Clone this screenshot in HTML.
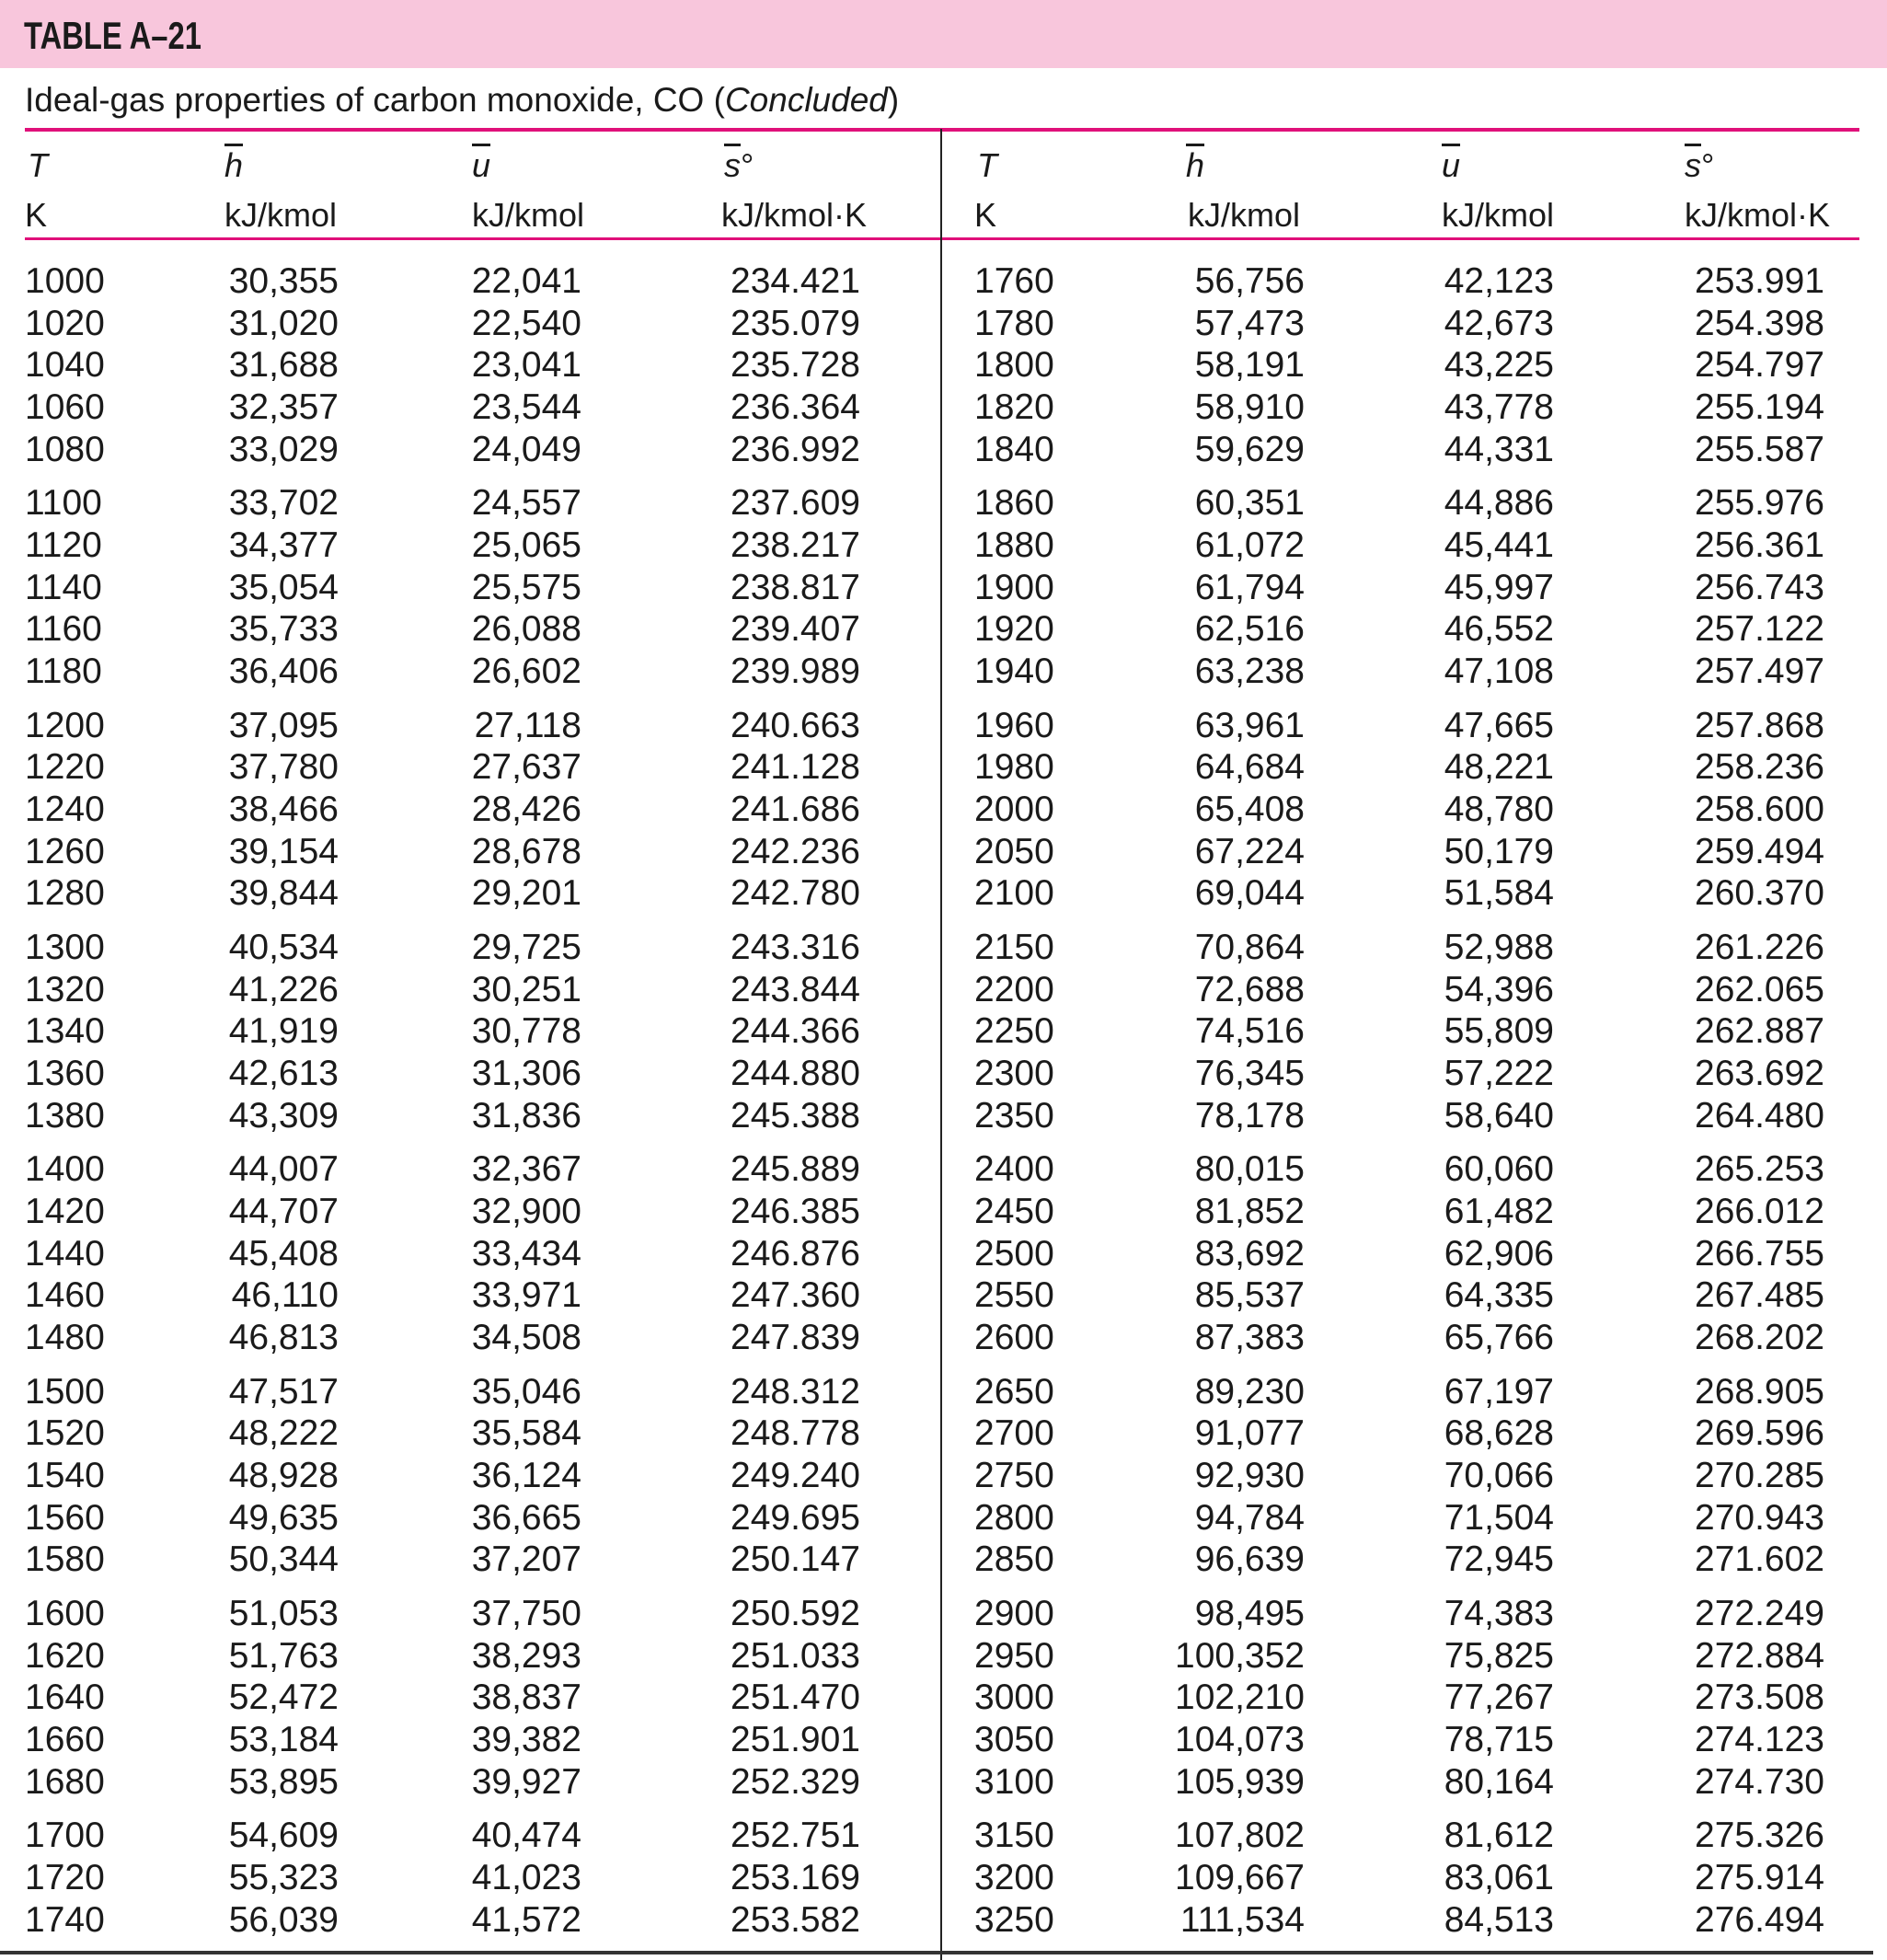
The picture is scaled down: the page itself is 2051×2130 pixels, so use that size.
<!DOCTYPE html>
<html><head><meta charset="utf-8"><style>
body{margin:0;width:2051px;height:2130px;background:#fff;position:relative;overflow:hidden;font-family:"Liberation Sans",sans-serif;color:#1a1a1a}
.band{position:absolute;left:0;top:0;width:2051px;height:74px;background:#f8c6dc}
.title{position:absolute;left:26px;top:14px;font-weight:bold;font-size:42px;transform:scaleX(0.78);transform-origin:left;letter-spacing:0px;line-height:50px}
.sub{position:absolute;left:27px;top:87px;font-size:37px;line-height:44px}
.hl{position:absolute;left:27px;width:1994px;background:#e0107a}
.vl{position:absolute;left:1022px;top:140px;width:2px;height:1990px;background:#222}
.bl{position:absolute;left:0;top:2120px;width:2036px;height:4px;background:#333}
.r{position:absolute;left:0;width:2051px;height:46px;font-size:39px;line-height:46px;transform:translateY(2px)}
.r span{position:absolute;top:0;white-space:nowrap}
.a{left:27px}.b{right:1683px}.c{right:1419px}.d{right:1116px}
.e{left:1059px}.f{right:633px}.g{right:362px}.h{right:68px}
.hd{position:absolute;font-size:36px;line-height:44px}
i{font-style:italic}
.ov{text-decoration:overline}
</style></head><body>
<div class="band"></div>
<div class="title">TABLE A–21</div>
<div class="sub">Ideal-gas properties of carbon monoxide, CO (<i>Concluded</i>)</div>
<div class="hl" style="top:139px;height:4px"></div>
<div class="hl" style="top:258px;height:3px"></div>
<div class="vl"></div>
<div class="bl"></div>

<div class="hd" style="left:30px;top:158px"><i>T</i></div>
<div class="hd" style="left:244px;top:158px"><i class="ov">h</i></div>
<div class="hd" style="left:513px;top:158px"><i class="ov">u</i></div>
<div class="hd" style="left:787px;top:158px"><i class="ov">s</i>°</div>
<div class="hd" style="left:1062px;top:158px"><i>T</i></div>
<div class="hd" style="left:1289px;top:158px"><i class="ov">h</i></div>
<div class="hd" style="left:1567px;top:158px"><i class="ov">u</i></div>
<div class="hd" style="left:1831px;top:158px"><i class="ov">s</i>°</div>
<div class="hd" style="left:27px;top:212px">K</div>
<div class="hd" style="left:244px;top:212px">kJ/kmol</div>
<div class="hd" style="left:513px;top:212px">kJ/kmol</div>
<div class="hd" style="left:784px;top:212px">kJ/kmol·K</div>
<div class="hd" style="left:1059px;top:212px">K</div>
<div class="hd" style="left:1291px;top:212px">kJ/kmol</div>
<div class="hd" style="left:1567px;top:212px">kJ/kmol</div>
<div class="hd" style="left:1831px;top:212px">kJ/kmol·K</div>

<div class="r" style="top:281px"><span class="a">1000</span><span class="b">30,355</span><span class="c">22,041</span><span class="d">234.421</span><span class="e">1760</span><span class="f">56,756</span><span class="g">42,123</span><span class="h">253.991</span></div>
<div class="r" style="top:327px"><span class="a">1020</span><span class="b">31,020</span><span class="c">22,540</span><span class="d">235.079</span><span class="e">1780</span><span class="f">57,473</span><span class="g">42,673</span><span class="h">254.398</span></div>
<div class="r" style="top:372px"><span class="a">1040</span><span class="b">31,688</span><span class="c">23,041</span><span class="d">235.728</span><span class="e">1800</span><span class="f">58,191</span><span class="g">43,225</span><span class="h">254.797</span></div>
<div class="r" style="top:418px"><span class="a">1060</span><span class="b">32,357</span><span class="c">23,544</span><span class="d">236.364</span><span class="e">1820</span><span class="f">58,910</span><span class="g">43,778</span><span class="h">255.194</span></div>
<div class="r" style="top:464px"><span class="a">1080</span><span class="b">33,029</span><span class="c">24,049</span><span class="d">236.992</span><span class="e">1840</span><span class="f">59,629</span><span class="g">44,331</span><span class="h">255.587</span></div>

<div class="r" style="top:522px"><span class="a">1100</span><span class="b">33,702</span><span class="c">24,557</span><span class="d">237.609</span><span class="e">1860</span><span class="f">60,351</span><span class="g">44,886</span><span class="h">255.976</span></div>
<div class="r" style="top:568px"><span class="a">1120</span><span class="b">34,377</span><span class="c">25,065</span><span class="d">238.217</span><span class="e">1880</span><span class="f">61,072</span><span class="g">45,441</span><span class="h">256.361</span></div>
<div class="r" style="top:614px"><span class="a">1140</span><span class="b">35,054</span><span class="c">25,575</span><span class="d">238.817</span><span class="e">1900</span><span class="f">61,794</span><span class="g">45,997</span><span class="h">256.743</span></div>
<div class="r" style="top:659px"><span class="a">1160</span><span class="b">35,733</span><span class="c">26,088</span><span class="d">239.407</span><span class="e">1920</span><span class="f">62,516</span><span class="g">46,552</span><span class="h">257.122</span></div>
<div class="r" style="top:705px"><span class="a">1180</span><span class="b">36,406</span><span class="c">26,602</span><span class="d">239.989</span><span class="e">1940</span><span class="f">63,238</span><span class="g">47,108</span><span class="h">257.497</span></div>

<div class="r" style="top:764px"><span class="a">1200</span><span class="b">37,095</span><span class="c">27,118</span><span class="d">240.663</span><span class="e">1960</span><span class="f">63,961</span><span class="g">47,665</span><span class="h">257.868</span></div>
<div class="r" style="top:809px"><span class="a">1220</span><span class="b">37,780</span><span class="c">27,637</span><span class="d">241.128</span><span class="e">1980</span><span class="f">64,684</span><span class="g">48,221</span><span class="h">258.236</span></div>
<div class="r" style="top:855px"><span class="a">1240</span><span class="b">38,466</span><span class="c">28,426</span><span class="d">241.686</span><span class="e">2000</span><span class="f">65,408</span><span class="g">48,780</span><span class="h">258.600</span></div>
<div class="r" style="top:901px"><span class="a">1260</span><span class="b">39,154</span><span class="c">28,678</span><span class="d">242.236</span><span class="e">2050</span><span class="f">67,224</span><span class="g">50,179</span><span class="h">259.494</span></div>
<div class="r" style="top:946px"><span class="a">1280</span><span class="b">39,844</span><span class="c">29,201</span><span class="d">242.780</span><span class="e">2100</span><span class="f">69,044</span><span class="g">51,584</span><span class="h">260.370</span></div>

<div class="r" style="top:1005px"><span class="a">1300</span><span class="b">40,534</span><span class="c">29,725</span><span class="d">243.316</span><span class="e">2150</span><span class="f">70,864</span><span class="g">52,988</span><span class="h">261.226</span></div>
<div class="r" style="top:1051px"><span class="a">1320</span><span class="b">41,226</span><span class="c">30,251</span><span class="d">243.844</span><span class="e">2200</span><span class="f">72,688</span><span class="g">54,396</span><span class="h">262.065</span></div>
<div class="r" style="top:1096px"><span class="a">1340</span><span class="b">41,919</span><span class="c">30,778</span><span class="d">244.366</span><span class="e">2250</span><span class="f">74,516</span><span class="g">55,809</span><span class="h">262.887</span></div>
<div class="r" style="top:1142px"><span class="a">1360</span><span class="b">42,613</span><span class="c">31,306</span><span class="d">244.880</span><span class="e">2300</span><span class="f">76,345</span><span class="g">57,222</span><span class="h">263.692</span></div>
<div class="r" style="top:1188px"><span class="a">1380</span><span class="b">43,309</span><span class="c">31,836</span><span class="d">245.388</span><span class="e">2350</span><span class="f">78,178</span><span class="g">58,640</span><span class="h">264.480</span></div>

<div class="r" style="top:1246px"><span class="a">1400</span><span class="b">44,007</span><span class="c">32,367</span><span class="d">245.889</span><span class="e">2400</span><span class="f">80,015</span><span class="g">60,060</span><span class="h">265.253</span></div>
<div class="r" style="top:1292px"><span class="a">1420</span><span class="b">44,707</span><span class="c">32,900</span><span class="d">246.385</span><span class="e">2450</span><span class="f">81,852</span><span class="g">61,482</span><span class="h">266.012</span></div>
<div class="r" style="top:1338px"><span class="a">1440</span><span class="b">45,408</span><span class="c">33,434</span><span class="d">246.876</span><span class="e">2500</span><span class="f">83,692</span><span class="g">62,906</span><span class="h">266.755</span></div>
<div class="r" style="top:1383px"><span class="a">1460</span><span class="b">46,110</span><span class="c">33,971</span><span class="d">247.360</span><span class="e">2550</span><span class="f">85,537</span><span class="g">64,335</span><span class="h">267.485</span></div>
<div class="r" style="top:1429px"><span class="a">1480</span><span class="b">46,813</span><span class="c">34,508</span><span class="d">247.839</span><span class="e">2600</span><span class="f">87,383</span><span class="g">65,766</span><span class="h">268.202</span></div>

<div class="r" style="top:1488px"><span class="a">1500</span><span class="b">47,517</span><span class="c">35,046</span><span class="d">248.312</span><span class="e">2650</span><span class="f">89,230</span><span class="g">67,197</span><span class="h">268.905</span></div>
<div class="r" style="top:1533px"><span class="a">1520</span><span class="b">48,222</span><span class="c">35,584</span><span class="d">248.778</span><span class="e">2700</span><span class="f">91,077</span><span class="g">68,628</span><span class="h">269.596</span></div>
<div class="r" style="top:1579px"><span class="a">1540</span><span class="b">48,928</span><span class="c">36,124</span><span class="d">249.240</span><span class="e">2750</span><span class="f">92,930</span><span class="g">70,066</span><span class="h">270.285</span></div>
<div class="r" style="top:1625px"><span class="a">1560</span><span class="b">49,635</span><span class="c">36,665</span><span class="d">249.695</span><span class="e">2800</span><span class="f">94,784</span><span class="g">71,504</span><span class="h">270.943</span></div>
<div class="r" style="top:1670px"><span class="a">1580</span><span class="b">50,344</span><span class="c">37,207</span><span class="d">250.147</span><span class="e">2850</span><span class="f">96,639</span><span class="g">72,945</span><span class="h">271.602</span></div>

<div class="r" style="top:1729px"><span class="a">1600</span><span class="b">51,053</span><span class="c">37,750</span><span class="d">250.592</span><span class="e">2900</span><span class="f">98,495</span><span class="g">74,383</span><span class="h">272.249</span></div>
<div class="r" style="top:1775px"><span class="a">1620</span><span class="b">51,763</span><span class="c">38,293</span><span class="d">251.033</span><span class="e">2950</span><span class="f">100,352</span><span class="g">75,825</span><span class="h">272.884</span></div>
<div class="r" style="top:1820px"><span class="a">1640</span><span class="b">52,472</span><span class="c">38,837</span><span class="d">251.470</span><span class="e">3000</span><span class="f">102,210</span><span class="g">77,267</span><span class="h">273.508</span></div>
<div class="r" style="top:1866px"><span class="a">1660</span><span class="b">53,184</span><span class="c">39,382</span><span class="d">251.901</span><span class="e">3050</span><span class="f">104,073</span><span class="g">78,715</span><span class="h">274.123</span></div>
<div class="r" style="top:1912px"><span class="a">1680</span><span class="b">53,895</span><span class="c">39,927</span><span class="d">252.329</span><span class="e">3100</span><span class="f">105,939</span><span class="g">80,164</span><span class="h">274.730</span></div>

<div class="r" style="top:1970px"><span class="a">1700</span><span class="b">54,609</span><span class="c">40,474</span><span class="d">252.751</span><span class="e">3150</span><span class="f">107,802</span><span class="g">81,612</span><span class="h">275.326</span></div>
<div class="r" style="top:2016px"><span class="a">1720</span><span class="b">55,323</span><span class="c">41,023</span><span class="d">253.169</span><span class="e">3200</span><span class="f">109,667</span><span class="g">83,061</span><span class="h">275.914</span></div>
<div class="r" style="top:2062px"><span class="a">1740</span><span class="b">56,039</span><span class="c">41,572</span><span class="d">253.582</span><span class="e">3250</span><span class="f">111,534</span><span class="g">84,513</span><span class="h">276.494</span></div>
</body></html>
